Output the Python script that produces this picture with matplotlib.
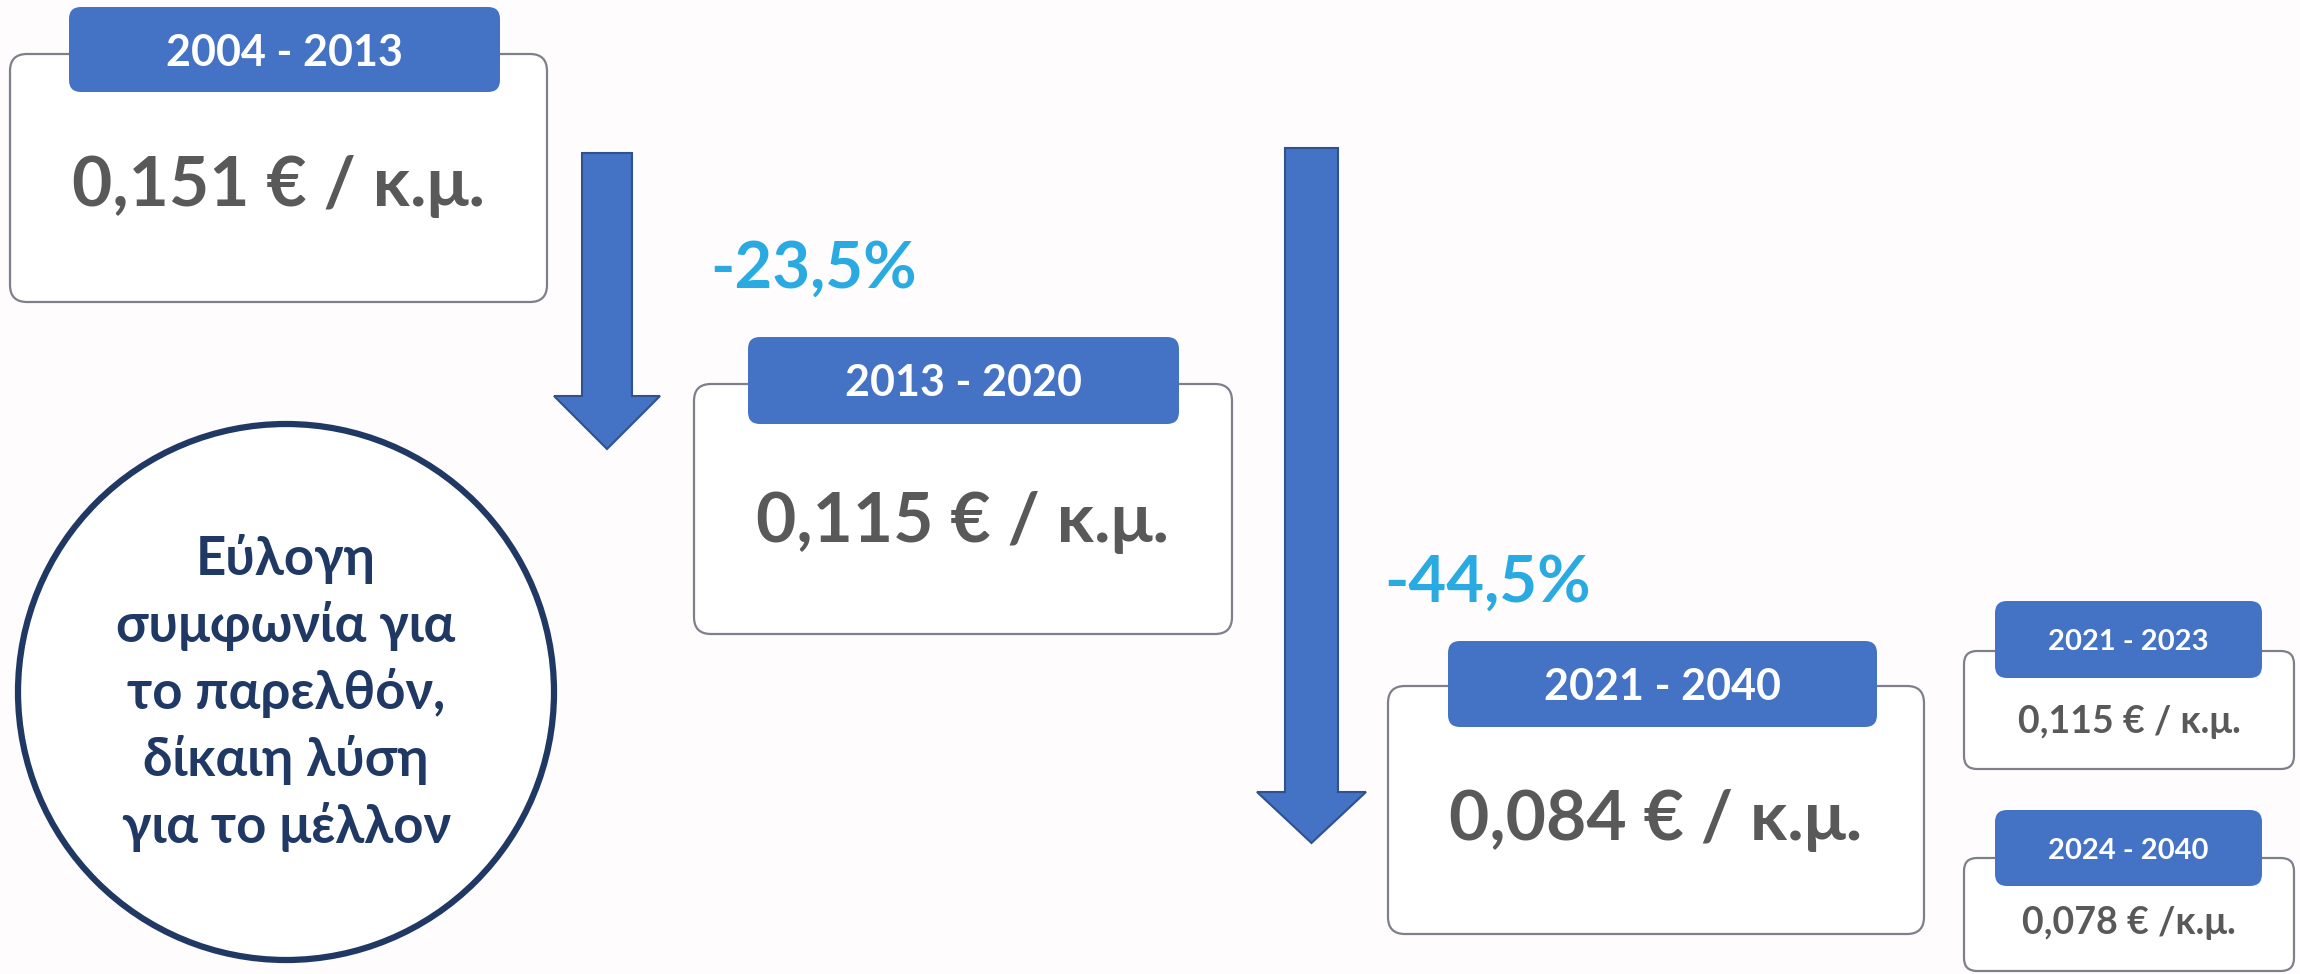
"""Water price periods infographic"""
import matplotlib.pyplot as plt
from matplotlib.patches import FancyBboxPatch, Polygon, Circle

# data
periods = ['2004 - 2013', '2013 - 2020', '2021 - 2040']
prices = ['0,151 € / κ.μ.', '0,115 € / κ.μ.', '0,084 € / κ.μ.']
changes = ['-23,5%', '-44,5%']
sub_periods = ['2021 - 2023', '2024 - 2040']
sub_prices = ['0,115 € / κ.μ.', '0,078 € /κ.μ.']
slogan = ['Εύλογη', 'συμφωνία για', 'το παρελθόν,', 'δίκαιη λύση', 'για το μέλλον']

# colours / fonts
BLUE = '#4472C4'
BLUE_EDGE = '#2F528F'
GREY_TXT = '#595959'
BOX_EDGE = '#7F7F8C'
CYAN = '#29ABE2'
NAVY = '#203864'
BG = '#FEFCFD'
FONT = ['Lato', 'Open Sans', 'DejaVu Sans']

fig = plt.figure(figsize=(23, 9.74), dpi=100, facecolor=BG)
ax = fig.add_axes([0, 0, 1, 1])
ax.set_xlim(0, 2300)
ax.set_ylim(974, 0)
ax.axis('off')
ax.set_facecolor(BG)


def rbox(x0, y0, x1, y1, r, **kw):
    p = FancyBboxPatch((x0, y0), x1 - x0, y1 - y0,
                       boxstyle=f'round,pad=0,rounding_size={r}', **kw)
    ax.add_patch(p)


def card(box, head, label, value, head_fs, val_fs, head_dy, val_base, r=17):
    rbox(*box, r, facecolor='white', edgecolor=BOX_EDGE, lw=1.6, zorder=1)
    rbox(*head, 12, facecolor=BLUE, edgecolor='none', zorder=2)
    hx = (head[0] + head[2]) / 2
    hy = (head[1] + head[3]) / 2
    ax.text(hx, hy + head_dy, label, ha='center', va='baseline',
            fontsize=head_fs, weight='bold', color='white', family=FONT, zorder=3)
    bx = (box[0] + box[2]) / 2
    ax.text(bx, val_base, value, ha='center', va='baseline',
            fontsize=val_fs, weight='bold', color=GREY_TXT, family=FONT, zorder=3)


def down_arrow(x0, x1, top, head_y, hx0, hx1, tip):
    cx = (hx0 + hx1) / 2
    pts = [(x0, top), (x1, top), (x1, head_y), (hx1, head_y),
           (cx, tip), (hx0, head_y), (x0, head_y)]
    ax.add_patch(Polygon(pts, closed=True, facecolor=BLUE,
                         edgecolor=BLUE_EDGE, lw=1.5, zorder=2))


# main cards
main_boxes = [(10, 54, 547, 302), (694, 384, 1232, 634), (1388, 686, 1924, 934)]
main_heads = [(69, 7, 500, 92), (748, 337, 1179, 424), (1448, 641, 1877, 727)]
val_bases = [206, 542, 840]
for i in range(3):
    card(main_boxes[i], main_heads[i], periods[i], prices[i], 31, 50, 16, val_bases[i])

# small cards
sub_boxes = [(1964, 651, 2294, 769), (1964, 858, 2294, 971)]
sub_heads = [(1995, 601, 2262, 678), (1995, 810, 2262, 886)]
sub_bases = [733, 934]
for i in range(2):
    card(sub_boxes[i], sub_heads[i], sub_periods[i], sub_prices[i], 21, 27, 11,
         sub_bases[i], r=13)

# arrows
down_arrow(582, 632, 153, 396, 554, 660, 449)
down_arrow(1285, 1338, 148, 792, 1257, 1366, 843)

# percentage changes
pct_pos = [(814, 288), (1488, 602)]
for (x, y), t in zip(pct_pos, changes):
    ax.text(x, y, t, ha='center', va='baseline', fontsize=47, weight='bold',
            color=CYAN, family=FONT)

# slogan circle
ax.add_patch(Circle((286, 692), 268, facecolor='white', edgecolor=NAVY,
                    lw=4.5, zorder=1))
for k, line in enumerate(slogan):
    ax.text(286, 575 + k * 67, line, ha='center', va='baseline', fontsize=38,
            weight='bold', color=NAVY, family=FONT, zorder=3)

fig.savefig('out.png', dpi=100, facecolor=BG)
plt.close(fig)
